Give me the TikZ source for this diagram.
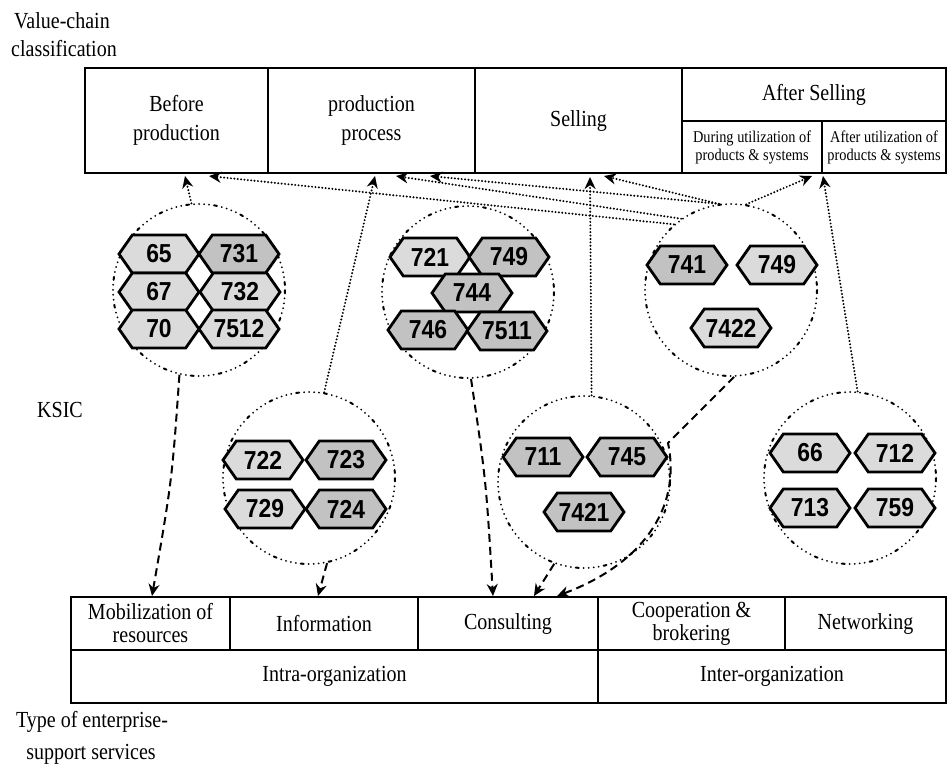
\documentclass[tikz,border=0pt]{standalone}
\usepackage{fontspec}
\setmainfont{Liberation Serif}[FakeStretch=0.87]
\newfontfamily\hexfont{Liberation Sans}[FakeStretch=0.88]
\usetikzlibrary{shapes.symbols,arrows.meta}
\tikzset{
  cellbox/.style={draw, line width=1.6pt, inner sep=0pt, align=center, font=\fontsize{23}{29}\selectfont},
  cellboxb/.style={cellbox, font=\fontsize{23}{23}\selectfont},
  smallcell/.style={cellbox, font=\fontsize{16.5}{18}\selectfont},
  lbl/.style={inner sep=0pt, font=\fontsize{23}{29}\selectfont},
  hexa/.style={signal, signal to=west and east, signal pointer angle=110, draw, line width=2.8pt,
    minimum width=80pt, minimum height=38pt, inner sep=0pt, fill=gray!28,
    font=\hexfont\bfseries\fontsize{26}{26}\selectfont},
  hexd/.style={hexa, fill=gray!48},
  circ/.style={circle, draw, minimum size=172pt, inner sep=0pt, line width=2pt, line cap=round,
    dash pattern=on 0pt off 5pt on 3pt off 5pt on 0pt off 5pt on 0pt off 5pt on 0pt off 5pt},
  dotarrow/.style={line width=2.2pt, line cap=round, dash pattern=on 0pt off 3.4pt,
    -{Stealth[length=12pt,width=11pt]}},
  dasharrow/.style={line width=2pt, dash pattern=on 8pt off 5pt,
    -{Stealth[length=12pt,width=11pt]}},
}
\begin{document}
\begin{tikzpicture}[x=1pt,y=-1pt]
\useasboundingbox (0,0) rectangle (947,764);

% labels
\node[lbl] (lvc) at (62,21) {Value-chain};
\node[lbl] (lcl) at (64,49) {classification};
\node[lbl] (lksic) at (60,410) {KSIC};
\node[lbl] (ltype) at (92,722) {Type of enterprise-};
\node[lbl] (lsupp) at (91,754) {support services};

% top table
\node[cellbox, minimum width=183pt, minimum height=105pt] (before) at (176.5,120.5) {Before\\production};
\node[cellbox, minimum width=207pt, minimum height=105pt] (process) at (371.5,120.5) {production\\process};
\node[cellbox, minimum width=207pt, minimum height=105pt] (selling) at (578.5,120.5) {Selling};
\node[cellbox, minimum width=264pt, minimum height=53pt] (after) at (814,94.5) {After Selling};
\node[smallcell, minimum width=140pt, minimum height=52pt] (during) at (752,147) {During utilization of\\products \& systems};
\node[smallcell, minimum width=124pt, minimum height=52pt] (afteruse) at (884,147) {After utilization of\\products \& systems};

% bottom table
\node[cellboxb, minimum width=159pt, minimum height=53pt] (mob) at (150.5,623.5) {Mobilization of\\resources};
\node[cellboxb, minimum width=188pt, minimum height=53pt] (info) at (324,623.5) {Information};
\node[cellboxb, minimum width=180pt, minimum height=53pt] (cons) at (508,623.5) {Consulting};
\node[cellboxb, minimum width=187pt, minimum height=53pt] (coop) at (691.5,623.5) {Cooperation \&\\brokering};
\node[cellboxb, minimum width=161pt, minimum height=53pt] (net) at (865.5,623.5) {Networking};
\node[cellboxb, minimum width=527pt, minimum height=53pt] (intra) at (334.5,676.5) {Intra-organization};
\node[cellboxb, minimum width=348pt, minimum height=53pt] (inter) at (772,676.5) {Inter-organization};

% circles
\node[circ] (cA) at (199,290) {};
\node[circ] (cC) at (468,292) {};
\node[circ] (cD) at (731,290) {};
\node[circ] (cB) at (309,478) {};
\node[circ] (cE) at (584,482) {};
\node[circ] (cF) at (850,478) {};

% connector ends
\coordinate (tBefA) at (185,176);
\coordinate (tBefD) at (209,176);
\coordinate (tProcB) at (375,176);
\coordinate (tProcD) at (396,176);
\coordinate (tProcDb) at (430,176);
\coordinate (tSellE) at (590,177);
\coordinate (tSellD) at (604,176);
\coordinate (tDurD) at (812,176);
\coordinate (tAftF) at (823,176);
\coordinate (tMob) at (152,596);
\coordinate (tInfo) at (318,596);
\coordinate (tConsC) at (493,596);
\coordinate (tConsE) at (534,596);
\coordinate (tConsD) at (557,596);
\coordinate (kD) at (668,443);

% dotted connectors (upwards)
\draw[dotarrow] (cA.95) -- (tBefA);
\draw[dotarrow] (cD.131) -- (tBefD);
\draw[dotarrow] (cD.125) -- (tProcD);
\draw[dotarrow] (cD.98) -- (tProcDb);
\draw[dotarrow] (cB.80) -- (tProcB);
\draw[dotarrow] (cD.98) -- (tSellD);
\draw[dotarrow] (cE.85) -- (tSellE);
\draw[dotarrow] (cD.80) -- (tDurD);
\draw[dotarrow] (cF.85) -- (tAftF);

% dashed connectors (downwards)
\draw[dasharrow] (cA.257) .. controls (172,480) .. (tMob);
\draw[dasharrow] (cB.282) -- (tInfo);
\draw[dasharrow] (cC.272) .. controls (486,480) .. (tConsC);
\draw[dasharrow] (cE.250) -- (tConsE);
\draw[dasharrow] (cD.272) -- (kD) .. controls (682,510) and (640,565) .. (tConsD);

% hexagons A
\node[hexa] (h65) at (159,254) {65};
\node[hexd] (h731) at (239,254) {731};
\node[hexa] (h67) at (159,292) {67};
\node[hexa] (h732) at (240,292) {732};
\node[hexa] (h70) at (159,329) {70};
\node[hexa] (h7512) at (239,329) {7512};
% hexagons C
\node[hexa] (h721) at (430,257) {721};
\node[hexd] (h749a) at (509,257) {749};
\node[hexd] (h744) at (472,293) {744};
\node[hexd] (h746) at (428,330) {746};
\node[hexd] (h7511) at (507,331) {7511};
% hexagons D
\node[hexd] (h741) at (687,265) {741};
\node[hexa] (h749b) at (777,265) {749};
\node[hexa] (h7422) at (731,328) {7422};
% hexagons B
\node[hexa] (h722) at (263,460) {722};
\node[hexd] (h723) at (346,460) {723};
\node[hexa] (h729) at (265,509) {729};
\node[hexd] (h724) at (346,509) {724};
% hexagons E
\node[hexd] (h711) at (543,457) {711};
\node[hexd] (h745) at (627,457) {745};
\node[hexd] (h7421) at (584,512) {7421};
% hexagons F
\node[hexa] (h66) at (810,453) {66};
\node[hexa] (h712) at (895,453) {712};
\node[hexa] (h713) at (810,508) {713};
\node[hexa] (h759) at (895,508) {759};
\end{tikzpicture}
\end{document}
